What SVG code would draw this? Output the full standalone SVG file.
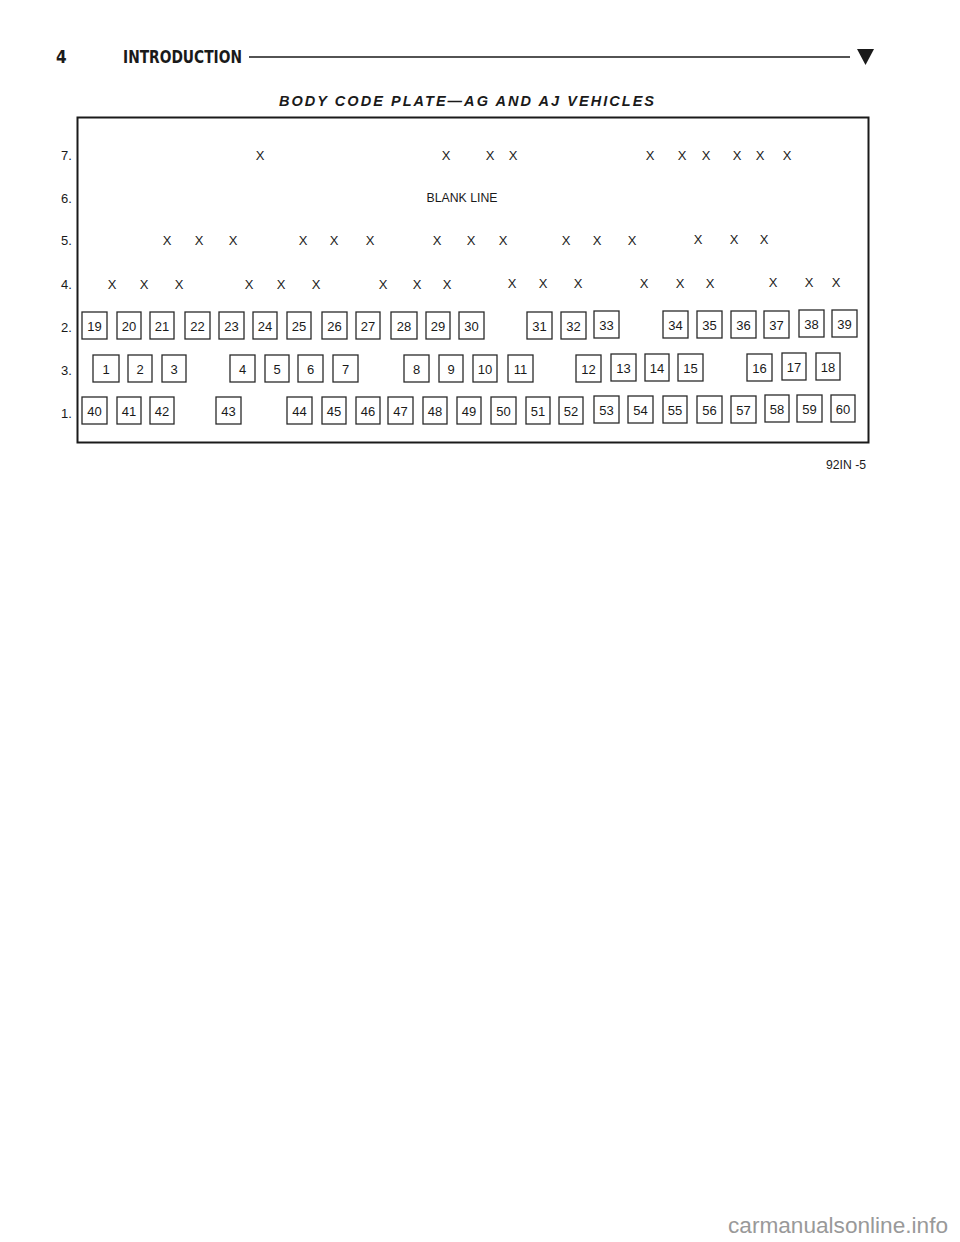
<svg xmlns="http://www.w3.org/2000/svg" width="960" height="1242" viewBox="0 0 960 1242">
<style>
.hd{font-family:"Liberation Sans Narrow","DejaVu Sans Condensed","Liberation Sans",sans-serif;font-weight:bold;font-size:17px;fill:#1a1a1a}
.ttl{font-family:"Liberation Sans",Arial,sans-serif;font-weight:bold;font-style:italic;font-size:14.5px;fill:#1a1a1a}
.lbl{font-family:"Liberation Sans",Arial,sans-serif;font-size:13px;fill:#1a1a1a}
.x{font-family:"Liberation Sans",Arial,sans-serif;font-size:13px;fill:#1a1a1a;text-anchor:middle}
.bx rect{fill:#fff;stroke:#2a2a2a;stroke-width:1.3}
.bx text{font-family:"Liberation Sans",Arial,sans-serif;font-size:13px;fill:#1a1a1a;text-anchor:middle}
.wm{font-family:"Liberation Sans Narrow","Liberation Sans",Arial,sans-serif;font-size:22px;fill:#999}
</style>
<rect width="960" height="1242" fill="#fff"/>
<g id="header">
<text class="hd" x="56" y="63">4</text>
<text class="hd" x="123" y="63" textLength="119" lengthAdjust="spacingAndGlyphs">INTRODUCTION</text>
<line x1="249" y1="57" x2="850" y2="57" stroke="#1a1a1a" stroke-width="1.5"/>
<polygon points="857,49 874,49 865.5,65" fill="#1a1a1a"/>
</g>
<text class="ttl" x="279" y="106" textLength="375" lengthAdjust="spacing">BODY CODE PLATE—AG AND AJ VEHICLES</text>
<rect id="plate" x="77.5" y="117.5" width="791" height="325" fill="none" stroke="#1a1a1a" stroke-width="2"/>
<g id="row-labels">
<text class="lbl" x="61" y="160">7.</text>
<text class="lbl" x="61" y="203">6.</text>
<text class="lbl" x="61" y="245">5.</text>
<text class="lbl" x="61" y="289">4.</text>
<text class="lbl" x="61" y="332">2.</text>
<text class="lbl" x="61" y="375">3.</text>
<text class="lbl" x="61" y="418">1.</text>
</g>
<g id="row7">
<text class="x" x="260" y="160">X</text>
<text class="x" x="446" y="160">X</text>
<text class="x" x="490" y="160">X</text>
<text class="x" x="513" y="160">X</text>
<text class="x" x="650" y="160">X</text>
<text class="x" x="682" y="160">X</text>
<text class="x" x="706" y="160">X</text>
<text class="x" x="737" y="160">X</text>
<text class="x" x="760" y="160">X</text>
<text class="x" x="787" y="160">X</text>
</g>
<g id="row6">
<text class="lbl" x="462" y="202" font-size="11.5" text-anchor="middle" textLength="71" lengthAdjust="spacingAndGlyphs">BLANK LINE</text>
</g>
<g id="row5">
<text class="x" x="167" y="245">X</text>
<text class="x" x="199" y="245">X</text>
<text class="x" x="233" y="245">X</text>
<text class="x" x="303" y="245">X</text>
<text class="x" x="334" y="245">X</text>
<text class="x" x="370" y="245">X</text>
<text class="x" x="437" y="245">X</text>
<text class="x" x="471" y="245">X</text>
<text class="x" x="503" y="245">X</text>
<text class="x" x="566" y="245">X</text>
<text class="x" x="597" y="245">X</text>
<text class="x" x="632" y="245">X</text>
<text class="x" x="698" y="244">X</text>
<text class="x" x="734" y="244">X</text>
<text class="x" x="764" y="244">X</text>
</g>
<g id="row4">
<text class="x" x="112" y="289">X</text>
<text class="x" x="144" y="289">X</text>
<text class="x" x="179" y="289">X</text>
<text class="x" x="249" y="289">X</text>
<text class="x" x="281" y="289">X</text>
<text class="x" x="316" y="289">X</text>
<text class="x" x="383" y="289">X</text>
<text class="x" x="417" y="289">X</text>
<text class="x" x="447" y="289">X</text>
<text class="x" x="512" y="288">X</text>
<text class="x" x="543" y="288">X</text>
<text class="x" x="578" y="288">X</text>
<text class="x" x="644" y="288">X</text>
<text class="x" x="680" y="288">X</text>
<text class="x" x="710" y="288">X</text>
<text class="x" x="773" y="287">X</text>
<text class="x" x="809" y="287">X</text>
<text class="x" x="836" y="287">X</text>
</g>
<g class="bx" id="row2-boxes">
<g id="b19"><rect x="82" y="312" width="25" height="27"/><text x="94.5" y="330.5">19</text></g>
<g id="b20"><rect x="117" y="312" width="24" height="27"/><text x="129" y="330.5">20</text></g>
<g id="b21"><rect x="150" y="312" width="24" height="27"/><text x="162" y="330.5">21</text></g>
<g id="b22"><rect x="185" y="312" width="25" height="27"/><text x="197.5" y="330.5">22</text></g>
<g id="b23"><rect x="219" y="312" width="25" height="27"/><text x="231.5" y="330.5">23</text></g>
<g id="b24"><rect x="253" y="312" width="24" height="27"/><text x="265" y="330.5">24</text></g>
<g id="b25"><rect x="287" y="312" width="24" height="27"/><text x="299" y="330.5">25</text></g>
<g id="b26"><rect x="322" y="312" width="25" height="27"/><text x="334.5" y="330.5">26</text></g>
<g id="b27"><rect x="356" y="312" width="24" height="27"/><text x="368" y="330.5">27</text></g>
<g id="b28"><rect x="391" y="312" width="26" height="27"/><text x="404" y="330.5">28</text></g>
<g id="b29"><rect x="426" y="312" width="24" height="27"/><text x="438" y="330.5">29</text></g>
<g id="b30"><rect x="459" y="312" width="25" height="27"/><text x="471.5" y="330.5">30</text></g>
<g id="b31"><rect x="527" y="312" width="25" height="27"/><text x="539.5" y="330.5">31</text></g>
<g id="b32"><rect x="561" y="312" width="25" height="27"/><text x="573.5" y="330.5">32</text></g>
<g id="b33"><rect x="594" y="311" width="25" height="27"/><text x="606.5" y="329.5">33</text></g>
<g id="b34"><rect x="663" y="311" width="25" height="27"/><text x="675.5" y="329.5">34</text></g>
<g id="b35"><rect x="697" y="311" width="25" height="27"/><text x="709.5" y="329.5">35</text></g>
<g id="b36"><rect x="731" y="311" width="25" height="27"/><text x="743.5" y="329.5">36</text></g>
<g id="b37"><rect x="764" y="311" width="25" height="27"/><text x="776.5" y="329.5">37</text></g>
<g id="b38"><rect x="799" y="310" width="25" height="27"/><text x="811.5" y="328.5">38</text></g>
<g id="b39"><rect x="832" y="310" width="25" height="27"/><text x="844.5" y="328.5">39</text></g>
</g>
<g class="bx" id="row3-boxes">
<g id="b1"><rect x="93" y="355" width="26" height="27"/><text x="106" y="373.5">1</text></g>
<g id="b2"><rect x="128" y="355" width="24" height="27"/><text x="140" y="373.5">2</text></g>
<g id="b3"><rect x="162" y="355" width="24" height="27"/><text x="174" y="373.5">3</text></g>
<g id="b4"><rect x="230" y="355" width="25" height="27"/><text x="242.5" y="373.5">4</text></g>
<g id="b5"><rect x="265" y="355" width="24" height="27"/><text x="277" y="373.5">5</text></g>
<g id="b6"><rect x="298" y="355" width="25" height="27"/><text x="310.5" y="373.5">6</text></g>
<g id="b7"><rect x="333" y="355" width="25" height="27"/><text x="345.5" y="373.5">7</text></g>
<g id="b8"><rect x="404" y="355" width="25" height="27"/><text x="416.5" y="373.5">8</text></g>
<g id="b9"><rect x="439" y="355" width="24" height="27"/><text x="451" y="373.5">9</text></g>
<g id="b10"><rect x="473" y="355" width="24" height="27"/><text x="485" y="373.5">10</text></g>
<g id="b11"><rect x="508" y="355" width="25" height="27"/><text x="520.5" y="373.5">11</text></g>
<g id="b12"><rect x="576" y="355" width="25" height="27"/><text x="588.5" y="373.5">12</text></g>
<g id="b13"><rect x="611" y="354" width="25" height="27"/><text x="623.5" y="372.5">13</text></g>
<g id="b14"><rect x="645" y="354" width="24" height="27"/><text x="657" y="372.5">14</text></g>
<g id="b15"><rect x="678" y="354" width="25" height="27"/><text x="690.5" y="372.5">15</text></g>
<g id="b16"><rect x="747" y="354" width="25" height="27"/><text x="759.5" y="372.5">16</text></g>
<g id="b17"><rect x="782" y="353" width="24" height="27"/><text x="794" y="371.5">17</text></g>
<g id="b18"><rect x="816" y="353" width="24" height="27"/><text x="828" y="371.5">18</text></g>
</g>
<g class="bx" id="row1-boxes">
<g id="b40"><rect x="82" y="397" width="25" height="27"/><text x="94.5" y="415.5">40</text></g>
<g id="b41"><rect x="117" y="397" width="24" height="27"/><text x="129" y="415.5">41</text></g>
<g id="b42"><rect x="150" y="397" width="24" height="27"/><text x="162" y="415.5">42</text></g>
<g id="b43"><rect x="216" y="397" width="25" height="27"/><text x="228.5" y="415.5">43</text></g>
<g id="b44"><rect x="287" y="397" width="25" height="27"/><text x="299.5" y="415.5">44</text></g>
<g id="b45"><rect x="322" y="397" width="24" height="27"/><text x="334" y="415.5">45</text></g>
<g id="b46"><rect x="356" y="397" width="24" height="27"/><text x="368" y="415.5">46</text></g>
<g id="b47"><rect x="388" y="397" width="25" height="27"/><text x="400.5" y="415.5">47</text></g>
<g id="b48"><rect x="423" y="397" width="24" height="27"/><text x="435" y="415.5">48</text></g>
<g id="b49"><rect x="457" y="397" width="24" height="27"/><text x="469" y="415.5">49</text></g>
<g id="b50"><rect x="491" y="397" width="25" height="27"/><text x="503.5" y="415.5">50</text></g>
<g id="b51"><rect x="526" y="397" width="24" height="27"/><text x="538" y="415.5">51</text></g>
<g id="b52"><rect x="559" y="397" width="24" height="27"/><text x="571" y="415.5">52</text></g>
<g id="b53"><rect x="594" y="396" width="25" height="27"/><text x="606.5" y="414.5">53</text></g>
<g id="b54"><rect x="628" y="396" width="25" height="27"/><text x="640.5" y="414.5">54</text></g>
<g id="b55"><rect x="663" y="396" width="24" height="27"/><text x="675" y="414.5">55</text></g>
<g id="b56"><rect x="697" y="396" width="25" height="27"/><text x="709.5" y="414.5">56</text></g>
<g id="b57"><rect x="731" y="396" width="25" height="27"/><text x="743.5" y="414.5">57</text></g>
<g id="b58"><rect x="765" y="395" width="24" height="27"/><text x="777" y="413.5">58</text></g>
<g id="b59"><rect x="797" y="395" width="25" height="27"/><text x="809.5" y="413.5">59</text></g>
<g id="b60"><rect x="831" y="395" width="24" height="27"/><text x="843" y="413.5">60</text></g>
</g>
<g id="connectors"></g>
<text class="lbl" x="866" y="469" font-size="11" text-anchor="end" textLength="40" lengthAdjust="spacingAndGlyphs">92IN -5</text>
<text class="wm" x="948" y="1233" text-anchor="end" textLength="220" lengthAdjust="spacingAndGlyphs">carmanualsonline.info</text>
</svg>
